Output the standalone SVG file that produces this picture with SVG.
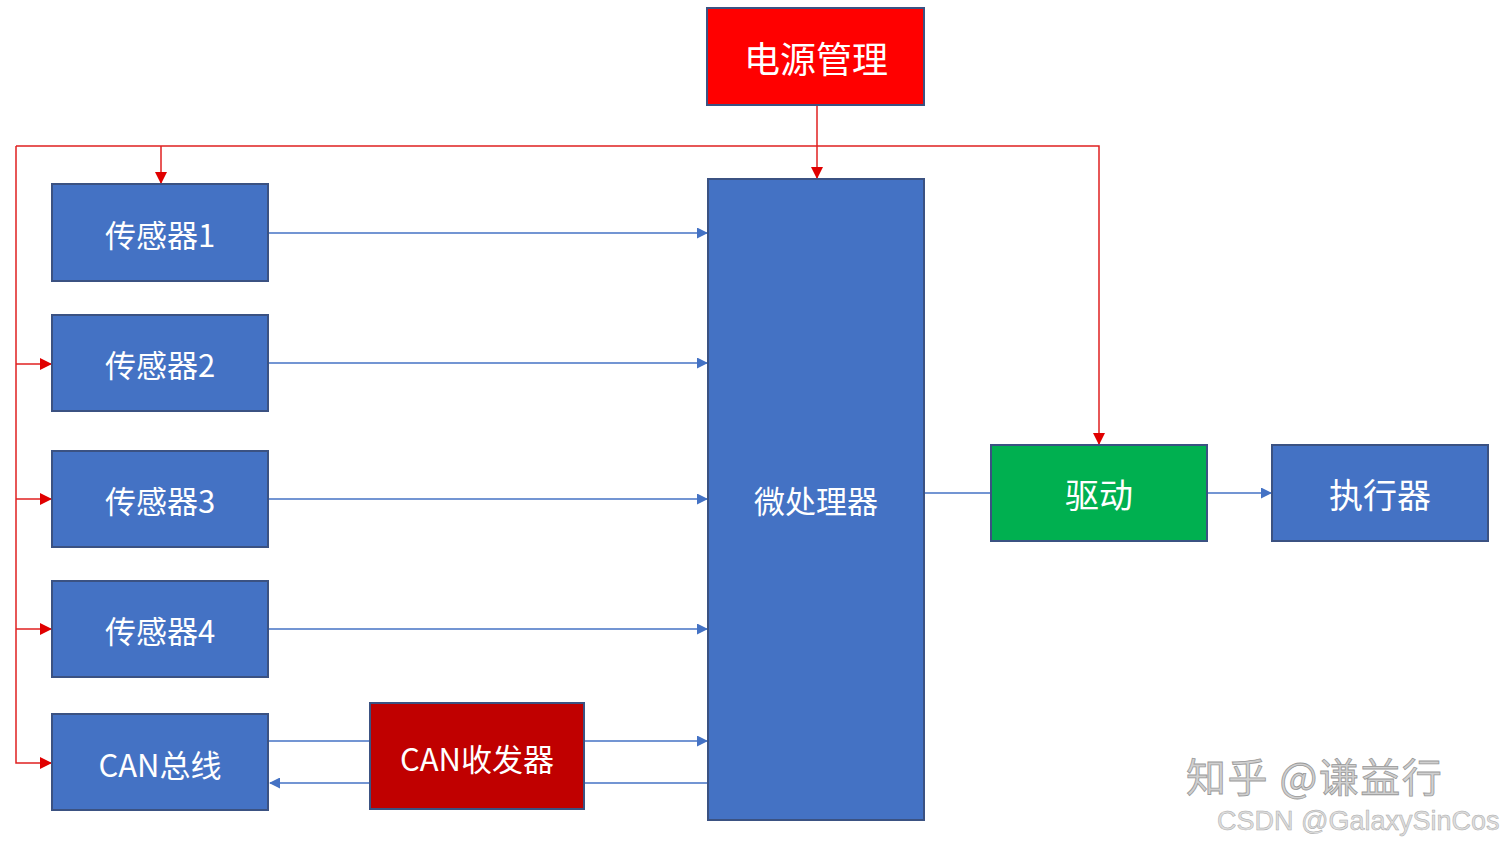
<svg xmlns="http://www.w3.org/2000/svg" width="1508" height="844" viewBox="0 0 1508 844">
<style>
.box{stroke:#3B5282;stroke-width:2}
.blue{fill:#4472C4}
.t{fill:#fff;font-family:"Noto Sans CJK SC","Liberation Sans",sans-serif;text-anchor:middle;dominant-baseline:central}
.r{stroke:#E02020;stroke-width:1.5;fill:none}
.b{stroke:#4472C4;stroke-width:1.3;fill:none}
</style>
<defs>
<marker id="ar" markerWidth="12" markerHeight="12" refX="11" refY="6" orient="auto" markerUnits="userSpaceOnUse"><path d="M0,0 L12,6 L0,12 Z" fill="#E00000"/></marker>
<marker id="ab" markerWidth="11" markerHeight="11" refX="10" refY="5.5" orient="auto" markerUnits="userSpaceOnUse"><path d="M0,0 L11,5.5 L0,11 Z" fill="#4472C4"/></marker>
</defs>
<rect width="1508" height="844" fill="#fff"/>
<g id="connectors">
<path class="r" d="M817,106 V178" marker-end="url(#ar)"/>
<path class="r" d="M16,146 H1099 V444" marker-end="url(#ar)"/>
<path class="r" d="M161,146 V183" marker-end="url(#ar)"/>
<path class="r" d="M16,146 V763 H51" marker-end="url(#ar)"/>
<path class="r" d="M16,364 H51" marker-end="url(#ar)"/>
<path class="r" d="M16,499 H51" marker-end="url(#ar)"/>
<path class="r" d="M16,629 H51" marker-end="url(#ar)"/>
<path class="b" d="M269,233 H707" marker-end="url(#ab)"/>
<path class="b" d="M269,363 H707" marker-end="url(#ab)"/>
<path class="b" d="M269,499 H707" marker-end="url(#ab)"/>
<path class="b" d="M269,629 H707" marker-end="url(#ab)"/>
<path class="b" d="M269,741 H707" marker-end="url(#ab)"/>
<path class="b" d="M707,783 H270" marker-end="url(#ab)"/>
<path class="b" d="M925,493 H990"/>
<path class="b" d="M1208,493 H1271" marker-end="url(#ab)"/>
</g>
<g id="power"><rect class="box" x="707" y="8" width="217" height="97" fill="#FF0000"/><text class="t" x="816" y="57" font-size="36">电源管理</text></g>
<g id="sensor1"><rect class="box blue" x="52" y="184" width="216" height="97"/><text class="t" x="160" y="233" font-size="31">传感器1</text></g>
<g id="sensor2"><rect class="box blue" x="52" y="315" width="216" height="96"/><text class="t" x="160" y="363" font-size="31">传感器2</text></g>
<g id="sensor3"><rect class="box blue" x="52" y="451" width="216" height="96"/><text class="t" x="160" y="499" font-size="31">传感器3</text></g>
<g id="sensor4"><rect class="box blue" x="52" y="581" width="216" height="96"/><text class="t" x="160" y="629" font-size="31">传感器4</text></g>
<g id="canbus"><rect class="box blue" x="52" y="714" width="216" height="96"/><text class="t" x="160" y="763" font-size="31">CAN总线</text></g>
<g id="cantrx"><rect class="box" x="370" y="703" width="214" height="106" fill="#C00000"/><text class="t" x="477" y="757" font-size="31">CAN收发器</text></g>
<g id="mcu"><rect class="box blue" x="708" y="179" width="216" height="641"/><text class="t" x="816" y="499" font-size="31">微处理器</text></g>
<g id="driver"><rect class="box" x="991" y="445" width="216" height="96" fill="#00B050"/><text class="t" x="1099" y="493" font-size="34">驱动</text></g>
<g id="actuator"><rect class="box blue" x="1272" y="445" width="216" height="96"/><text class="t" x="1380" y="493" font-size="34">执行器</text></g>
<g id="watermark">
<text x="1186" y="792" font-size="40" letter-spacing="1.5" fill="#d0d0d0" stroke="#999" stroke-width="0.8" font-family="Noto Sans CJK SC,Liberation Sans,sans-serif">知乎 @谦益行</text>
<text x="1217" y="830" font-size="27" fill="#ddd" stroke="#aaa" stroke-width="0.5" font-family="Liberation Sans,sans-serif">CSDN @GalaxySinCos</text>
</g>
</svg>
